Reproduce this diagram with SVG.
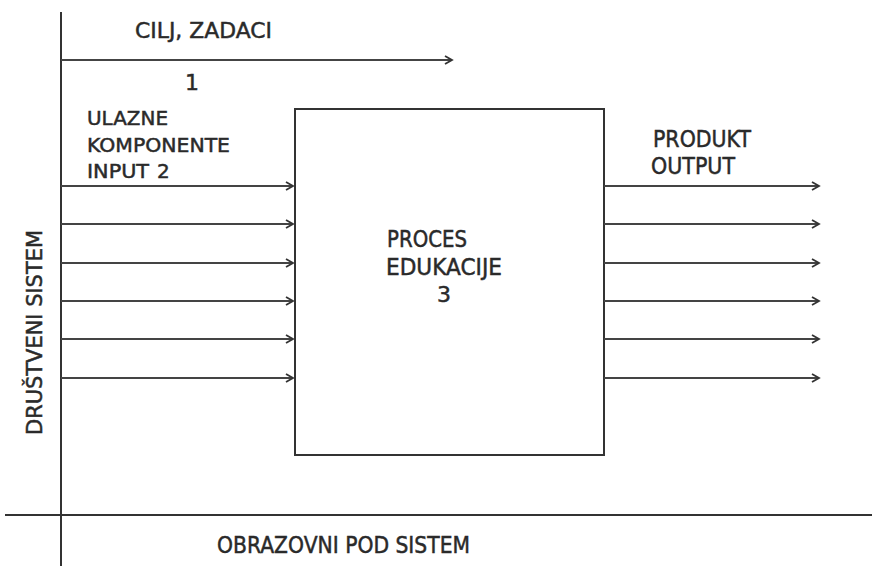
<svg xmlns="http://www.w3.org/2000/svg" width="872" height="566" viewBox="0 0 872 566">
<style>
.ln{stroke:#333;stroke-width:2;fill:none}
.ar{stroke:#444;stroke-width:1.8;fill:none;marker-end:url(#ah)}
.t{font-family:"DejaVu Sans","Liberation Sans",sans-serif;font-size:22px;fill:#2a2a2a;stroke:#2a2a2a;stroke-width:0.5}
.s{font-size:20px}
.b{font-size:23px}
</style>
<defs>
<marker id="ah" markerWidth="12" markerHeight="10" refX="9" refY="5" orient="auto" markerUnits="userSpaceOnUse">
<path d="M2,1 L9,5 L2,9" stroke="#333" stroke-width="1.8" fill="none"/>
</marker>
</defs>
<rect width="872" height="566" fill="#fff"/>
<g id="frame">
<line class="ln" x1="61" y1="12" x2="61" y2="566"/>
<line class="ln" x1="5" y1="515" x2="872" y2="515"/>
</g>
<g id="process">
<rect x="295" y="109" width="309" height="346" class="ln"/>
<text class="t b" x="387" y="247" textLength="80" lengthAdjust="spacingAndGlyphs">PROCES</text>
<text class="t b" x="386" y="275" textLength="116" lengthAdjust="spacingAndGlyphs">EDUKACIJE</text>
<text class="t" x="437" y="302">3</text>
</g>
<g id="connectors">
<line class="ar" x1="61" y1="60" x2="452" y2="60"/>
<line class="ar" x1="61" y1="186" x2="293" y2="186"/>
<line class="ar" x1="61" y1="224" x2="293" y2="224"/>
<line class="ar" x1="61" y1="263" x2="293" y2="263"/>
<line class="ar" x1="61" y1="301" x2="293" y2="301"/>
<line class="ar" x1="61" y1="339" x2="293" y2="339"/>
<line class="ar" x1="61" y1="378" x2="293" y2="378"/>
<line class="ar" x1="604" y1="186" x2="819" y2="186"/>
<line class="ar" x1="604" y1="224" x2="819" y2="224"/>
<line class="ar" x1="604" y1="263" x2="819" y2="263"/>
<line class="ar" x1="604" y1="301" x2="819" y2="301"/>
<line class="ar" x1="604" y1="339" x2="819" y2="339"/>
<line class="ar" x1="604" y1="378" x2="819" y2="378"/>
</g>
<g id="goal">
<text class="t" x="135" y="38" textLength="137" lengthAdjust="spacingAndGlyphs">CILJ, ZADACI</text>
<text class="t" x="185" y="90">1</text>
</g>
<g id="input">
<text class="t s" x="87" y="125" textLength="81" lengthAdjust="spacingAndGlyphs">ULAZNE</text>
<text class="t s" x="87" y="152" textLength="143" lengthAdjust="spacingAndGlyphs">KOMPONENTE</text>
<text class="t s" x="87" y="178" textLength="62" lengthAdjust="spacingAndGlyphs">INPUT</text>
<text class="t s" x="157" y="178">2</text>
</g>
<g id="output">
<text class="t b" x="653" y="147" textLength="98" lengthAdjust="spacingAndGlyphs">PRODUKT</text>
<text class="t b" x="651" y="174" textLength="84" lengthAdjust="spacingAndGlyphs">OUTPUT</text>
</g>
<g id="society">
<text class="t" transform="translate(42,435) rotate(-90)" x="0" y="0" textLength="205" lengthAdjust="spacingAndGlyphs">DRUŠTVENI SISTEM</text>
</g>
<g id="subsystem">
<text class="t b" x="217" y="553" textLength="253" lengthAdjust="spacingAndGlyphs">OBRAZOVNI POD SISTEM</text>
</g>
</svg>
